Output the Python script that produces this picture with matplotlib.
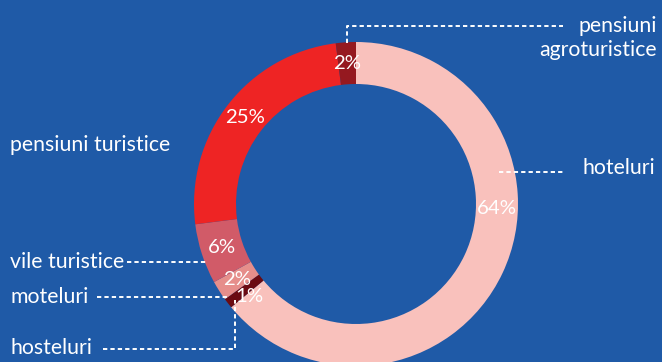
import numpy as np
import matplotlib.pyplot as plt

# share of accommodation units by type (clockwise from the top)
categories = ['hoteluri', 'hosteluri', 'moteluri', 'vile turistice',
              'pensiuni turistice', 'pensiuni agroturistice']
shares = [64, 1, 2, 6, 25, 2]
colors = ['#f9c1bc', '#6a0b13', '#e68e8b', '#d15b68', '#ee2424', '#951920']

bg = '#1f5aa7'
plt.rcParams['font.family'] = ['Lato', 'DejaVu Sans']

fig = plt.figure(figsize=(6.62, 3.62), dpi=100, facecolor=bg)
ax = fig.add_axes([0, 0, 1, 1])
ax.set_facecolor(bg)

H = 362
cx, cy = 356, H - 204
R, w = 162, 42

ax.pie(shares, colors=colors, startangle=90, counterclock=False,
       radius=R, center=(cx, cy),
       wedgeprops=dict(width=w, edgecolor='none', linewidth=0))

# percentage labels sit in the middle of the ring
edges = 90 - 360 * np.cumsum([0] + shares) / 100
mids = (edges[:-1] + edges[1:]) / 2
mids[0] = -2       # hoteluri label pulled up to the right side
mids[1] = -139     # hosteluri label nudged off the boundary
rm = R - w / 2
for s, a in zip(shares, mids):
    t = np.radians(a)
    ax.text(cx + rm * np.cos(t), cy + rm * np.sin(t), f'{s}%',
            color='white', fontsize=14.7, ha='center', va='center')

line_kw = dict(color='white', lw=1.4, linestyle=(0, (2.2, 1.6)))


def leader(xs, ys):
    ax.plot(xs, [H - y for y in ys], **line_kw)


leader([347, 347, 563], [43, 26, 26])
leader([499, 563], [172, 172])
leader([127, 207], [262, 262])
leader([97, 230], [297, 297])
leader([103, 235, 235], [349, 349, 300])

txt = dict(color='white', fontsize=15.3, va='center')
ax.text(657, H - 38, 'pensiuni\nagroturistice', ha='right',
        linespacing=1.2, **txt)
ax.text(655, H - 168, 'hoteluri', ha='right', **txt)
ax.text(10, H - 145, 'pensiuni turistice', ha='left', **txt)
ax.text(10, H - 262, 'vile turistice', ha='left', **txt)
ax.text(10, H - 297, 'moteluri', ha='left', **txt)
ax.text(10, H - 348, 'hosteluri', ha='left', **txt)

ax.set_xlim(0, 662)
ax.set_ylim(0, H)
ax.axis('off')

fig.savefig('out.png', dpi=100, facecolor=bg)
